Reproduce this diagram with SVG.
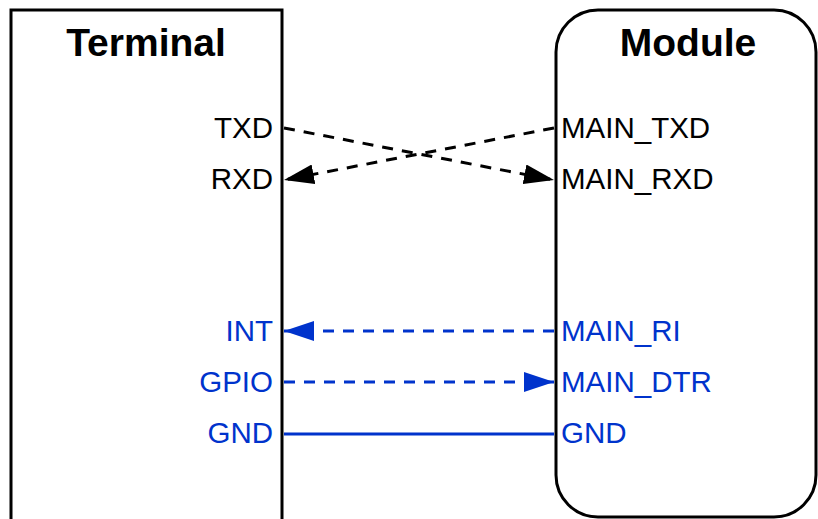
<svg xmlns="http://www.w3.org/2000/svg" width="818" height="519" viewBox="0 0 818 519">
<defs>
<style>
.box{fill:#fff;stroke:#000;stroke-width:3}
.title{font-family:"Liberation Sans",Arial,sans-serif;font-weight:bold;font-size:39px;fill:#000;text-anchor:middle}
.lbl{font-family:"Liberation Sans",Arial,sans-serif;font-size:29.5px}
.k{fill:#000}
.b{fill:#0033cc}
.end{text-anchor:end}
.dk{stroke:#000;stroke-width:3;stroke-dasharray:11 9;fill:none}
.db{stroke:#0033cc;stroke-width:3;stroke-dasharray:11 9;fill:none}
.sb{stroke:#0033cc;stroke-width:3;fill:none}
</style>
<marker id="ak" viewBox="0 0 30 20" refX="30" refY="10" markerWidth="30" markerHeight="20" markerUnits="userSpaceOnUse" orient="auto"><path d="M0,0 L30,10 L0,20 z" fill="#000"/></marker>
<marker id="ab" viewBox="0 0 30 20" refX="30" refY="10" markerWidth="30" markerHeight="20" markerUnits="userSpaceOnUse" orient="auto"><path d="M0,0 L30,10 L0,20 z" fill="#0033cc"/></marker>
</defs>
<g id="terminal">
<rect class="box" x="11" y="10" width="271" height="530"/>
<text class="title" x="146" y="56">Terminal</text>
<text class="lbl k end" x="273" y="138">TXD</text>
<text class="lbl k end" x="273" y="189">RXD</text>
<text class="lbl b end" x="273" y="341">INT</text>
<text class="lbl b end" x="273" y="392">GPIO</text>
<text class="lbl b end" x="273" y="443">GND</text>
</g>
<g id="module">
<rect class="box" x="556" y="10" width="260" height="507" rx="42" ry="42"/>
<text class="title" x="688" y="56">Module</text>
<text class="lbl k" x="561" y="138">MAIN_TXD</text>
<text class="lbl k" x="561" y="189">MAIN_RXD</text>
<text class="lbl b" x="561" y="341">MAIN_RI</text>
<text class="lbl b" x="561" y="392">MAIN_DTR</text>
<text class="lbl b" x="561" y="443">GND</text>
</g>
<g id="connectors">
<line class="dk" x1="284" y1="128" x2="554" y2="180" marker-end="url(#ak)"/>
<line class="dk" x1="554" y1="128" x2="284" y2="180" marker-end="url(#ak)"/>
<line class="db" x1="554" y1="331" x2="284" y2="331" marker-end="url(#ab)"/>
<line class="db" x1="284" y1="382" x2="554" y2="382" marker-end="url(#ab)"/>
<line class="sb" x1="284" y1="434" x2="554" y2="434"/>
</g>
</svg>
